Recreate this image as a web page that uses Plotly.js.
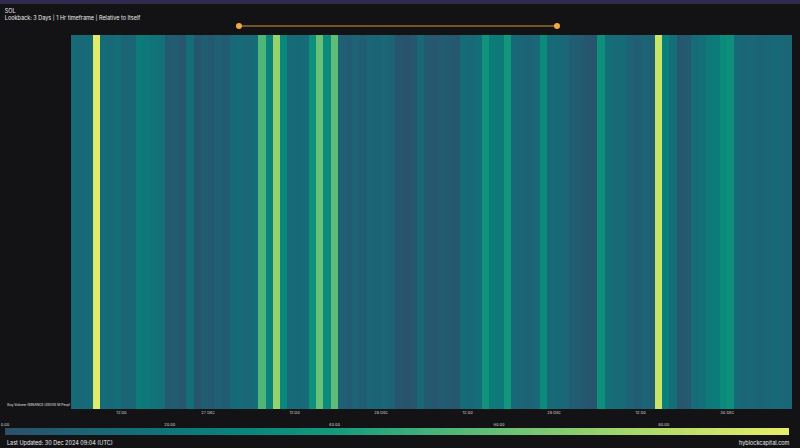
<!DOCTYPE html>
<html>
<head>
<meta charset="utf-8">
<script src="https://cdn.plot.ly/plotly-3.0.1.min.js"></script>
<style>
  html, body { margin: 0; padding: 0; background: #131316; }
  #chart { width: 800px; height: 448px; }
</style>
</head>
<body>
<div id="chart"></div>
<script>
// hourly buy volume, relative to itself (26 Dec 05:00 -> 30 Dec 09:00)
var startHour = '2024-12-26T05:00:00Z';
var buyVolume = [
  14, 13, 15, 93, 15, 13, 16, 10, 11, 24,
  21, 19, 17, 5, 6, 4, 16, 3, 7, 5,
  8, 6, 13, 14, 12, 15, 54, 28, 72, 30,
  14, 13, 15, 34, 60, 32, 58, 8, 6, 9,
  7, 11, 10, 12, 9, 3, 2, 4, 12, 5,
  4, 6, 5, 4, 15, 13, 16, 36, 24, 22,
  38, 13, 11, 9, 12, 32, 14, 13, 12, 7,
  6, 4, 3, 34, 16, 14, 15, 9, 7, 10,
  8, 86, 26, 16, 4, 5, 15, 17, 22, 24,
  32, 34, 13, 11, 12, 10, 11, 13, 12, 11
];
var rowLabel = ['Buy Volume (BINANCE USD(S) M Perp)'];

var tickDates = ['2024-12-26 12:00', '2024-12-27 00:00', '2024-12-27 12:00', '2024-12-28 00:00',
                 '2024-12-28 12:00', '2024-12-29 00:00', '2024-12-29 12:00', '2024-12-30 00:00'];
var tickNames = ['12:00', '27 Dec', '12:00', '28 Dec', '12:00', '29 Dec', '12:00', '30 Dec'];
var scaleTicks = [0, 20, 40, 60, 80];
var scaleMax = 95.2;

// cell edges, one per hour (n+1 edges for n cells)
var edges = [];
var t0 = new Date(startHour).getTime();
for (var i = 0; i <= buyVolume.length; i++) {
  edges.push(new Date(t0 + i * 3600000).toISOString().slice(0, 16).replace('T', ' '));
}

var colors = [
  [0.00, '#2d4f6a'],
  [0.10, '#1c6376'],
  [0.21, '#0f7579'],
  [0.31, '#09867b'],
  [0.42, '#139b7c'],
  [0.53, '#40b07a'],
  [0.63, '#66c076'],
  [0.74, '#90d06e'],
  [0.84, '#b6dd6a'],
  [1.00, '#e8ee6a']
];

var data = [
  {
    type: 'heatmap',
    x: edges,
    y: [0],
    z: [buyVolume],
    zmin: 0,
    zmax: scaleMax,
    colorscale: colors,
    colorbar: {
      orientation: 'h',
      x: 0, xanchor: 'left',
      y: 0.0196, yanchor: 'bottom',
      len: 784, lenmode: 'pixels',
      thickness: 7,
      outlinewidth: 0,
      xpad: 0, ypad: 0,
      ticks: '',
      showticklabels: false
    }
  },
  {
    // empty trace so the scale-label axis gets drawn
    type: 'scatter', x: [], y: [], xaxis: 'x2', yaxis: 'y2', hoverinfo: 'skip'
  }
];

var fnt = 'Inter, "Liberation Sans", Arial, sans-serif';

var layout = {
  width: 800,
  height: 448,
  paper_bgcolor: '#131316',
  plot_bgcolor: '#131316',
  font: {family: fnt, color: '#e6e6e6'},
  margin: {l: 5, r: 8, t: 35, b: 5, pad: 0},
  showlegend: false,
  title: {
    text: 'SOL<br>Lookback: 3 Days | 1 Hr timeframe | Relative to Itself',
    xref: 'container', x: 0.006, xanchor: 'left',
    yref: 'container', y: 0.971, yanchor: 'middle',
    font: {size: 5.5, color: '#ececec'}
  },
  xaxis: {
    domain: [0.0839, 1],
    anchor: 'y',
    type: 'date',
    range: [edges[0], edges[edges.length - 1]],
    tickvals: tickDates,
    ticktext: tickNames,
    tickfont: {size: 4, color: '#d0d0d0'},
    ticks: '',
    showgrid: false,
    zeroline: false,
    showline: false
  },
  yaxis: {
    domain: [0.0833, 1],
    anchor: 'x',
    range: [-0.5, 0.5],
    tickvals: [-0.49],
    ticktext: rowLabel,
    tickfont: {size: 3.4, color: '#e6e6e6'},
    ticks: '',
    showgrid: false,
    zeroline: false,
    showline: false
  },
  // labels for the colour scale, sat above the bar
  xaxis2: {
    domain: [0, 0.9962],
    anchor: 'y2',
    side: 'top',
    range: [0, scaleMax],
    tickvals: scaleTicks,
    tickformat: '.2f',
    tickfont: {size: 4, color: '#d0d0d0'},
    ticks: '',
    showgrid: false,
    zeroline: false,
    showline: false
  },
  yaxis2: {
    domain: [0.0196, 0.0368],
    anchor: 'x2',
    range: [0, 1],
    showticklabels: false,
    showgrid: false,
    zeroline: false,
    showline: false,
    ticks: ''
  },
  shapes: [
    // app header strip
    {type: 'rect', xref: 'paper', yref: 'paper', x0: -0.007, x1: 1.011, y0: 1.076, y1: 1.086,
     fillcolor: '#2f2b4d', line: {width: 0}},
    // lookback range handle
    {type: 'line', xref: 'paper', yref: 'paper', x0: 0.2973, x1: 0.7014, y0: 1.0221, y1: 1.0221,
     line: {color: '#d99536', width: 1.2}},
    {type: 'circle', xref: 'paper', yref: 'paper', xsizemode: 'pixel', ysizemode: 'pixel',
     xanchor: 0.2973, yanchor: 1.0221, x0: -3, x1: 3, y0: -3, y1: 3,
     fillcolor: '#f2a845', line: {width: 0}},
    {type: 'circle', xref: 'paper', yref: 'paper', xsizemode: 'pixel', ysizemode: 'pixel',
     xanchor: 0.7014, yanchor: 1.0221, x0: -3, x1: 3, y0: -3, y1: 3,
     fillcolor: '#f2a845', line: {width: 0}}
  ],
  annotations: [
    {text: 'Last Updated: 30 Dec 2024 09:04 (UTC)', xref: 'paper', yref: 'paper',
     x: 0, y: 0, xanchor: 'left', yanchor: 'middle', showarrow: false,
     font: {size: 5.5, color: '#ececec'}},
    {text: 'hyblockcapital.com', xref: 'paper', yref: 'paper',
     x: 1, y: 0, xanchor: 'right', yanchor: 'middle', showarrow: false,
     font: {size: 5.5, color: '#ececec'}}
  ]
};

var options = {
  staticPlot: true,
  displayModeBar: false
};

Plotly.newPlot('chart', data, layout, options);
</script>
</body>
</html>
